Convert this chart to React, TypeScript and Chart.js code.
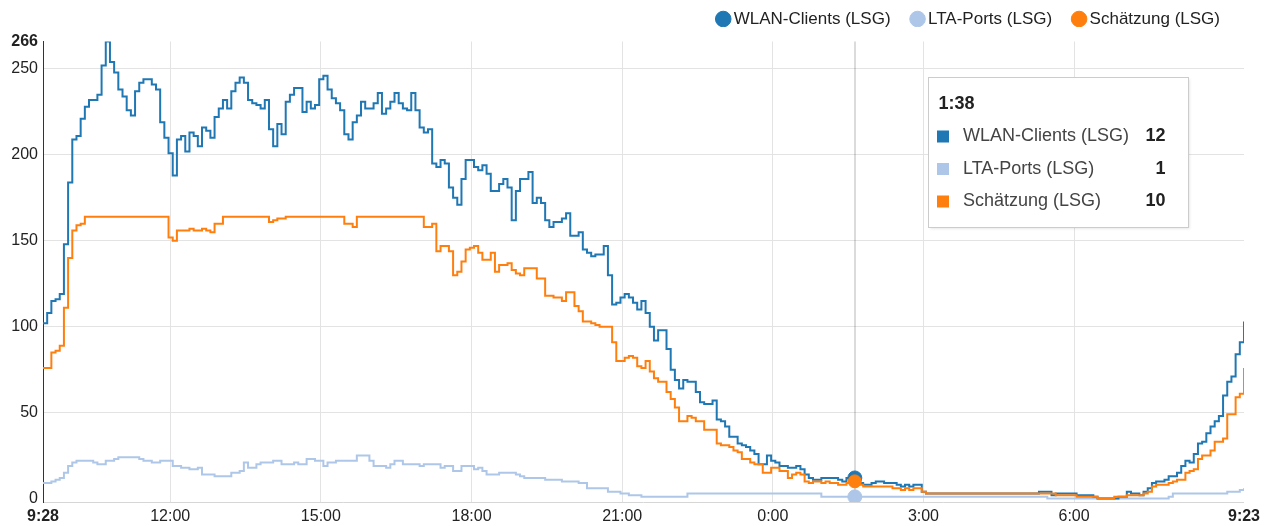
import React, { useEffect, useRef } from 'react';
import { Chart, registerables } from 'chart.js';

Chart.register(...registerables);

const FONT = "'Liberation Sans', Arial, Helvetica, sans-serif";

// time axis: minutes since midnight of the first day, one sample every 5 minutes
const START_MINUTE = 568; // 9:28
const STEP_MINUTES = 5;
const HOVER_INDEX = 194; // 1:38

const SERIES_NAMES = ['WLAN-Clients (LSG)', 'LTA-Ports (LSG)', 'Schätzung (LSG)'];
const SERIES_COLORS = ['#1f77b4', '#aec7e8', '#ff7f0e'];

const WLAN_CLIENTS = [
  102, 108, 115, 116, 119, 148, 184, 209, 211, 221, 228, 232,
  232, 235, 252, 266, 254, 248, 238, 234, 226, 223, 237, 242,
  244, 244, 241, 238, 219, 210, 201, 188, 209, 211, 202, 213,
  211, 205, 216, 214, 210, 222, 227, 232, 227, 237, 242, 245,
  242, 232, 230, 229, 227, 232, 215, 205, 218, 212, 231, 235,
  239, 239, 225, 231, 227, 229, 244, 246, 238, 233, 230, 226,
  212, 209, 219, 223, 231, 227, 227, 230, 236, 224, 227, 231,
  236, 230, 227, 226, 236, 226, 216, 213, 215, 195, 193, 197,
  195, 181, 175, 171, 186, 197, 197, 193, 191, 194, 189, 179,
  179, 183, 186, 181, 162, 179, 186, 186, 190, 172, 175, 172,
  162, 158, 161, 161, 163, 166, 153, 153, 155, 145, 143, 141,
  142, 142, 147, 130, 113, 114, 117, 119, 117, 114, 110, 115,
  108, 100, 92, 98, 98, 87, 75, 69, 64, 69, 68, 68,
  62, 56, 55, 55, 57, 46, 45, 42, 36, 36, 32, 31,
  30, 28, 26, 20, 20, 25, 22, 21, 19, 19, 18, 18,
  19, 17, 14, 12, 11, 11, 12, 12, 12, 12, 11, 10,
  12, 13, 12, 9, 8, 8, 9, 10, 10, 9, 9, 9,
  8, 7, 8, 7, 8, 8, 4, 3, 3, 3, 3, 3,
  3, 3, 3, 3, 3, 3, 3, 3, 3, 3, 3, 3,
  3, 3, 3, 3, 3, 3, 3, 3, 3, 3, 4, 4,
  4, 2, 3, 3, 3, 3, 3, 2, 2, 2, 2, 1,
  0, 0, 0, 0, 0, 1, 1, 4, 3, 3, 2, 4,
  6, 9, 10, 10, 11, 13, 13, 15, 19, 22, 21, 26,
  32, 33, 38, 42, 45, 48, 60, 68, 71, 84, 91, 103,
];

const LTA_PORTS = [
  9, 9, 10, 11, 12, 15, 19, 21, 22, 22, 22, 22,
  21, 20, 20, 22, 22, 23, 24, 24, 24, 24, 24, 23,
  22, 22, 21, 21, 22, 22, 22, 19, 19, 18, 18, 17,
  17, 18, 14, 14, 14, 13, 13, 13, 13, 15, 15, 16,
  21, 18, 18, 20, 21, 21, 21, 22, 22, 20, 20, 20,
  21, 20, 20, 23, 23, 22, 22, 19, 21, 21, 22, 22,
  22, 22, 22, 25, 25, 25, 22, 19, 19, 19, 18, 20,
  22, 22, 20, 20, 20, 20, 19, 20, 20, 20, 20, 18,
  19, 19, 16, 16, 19, 19, 19, 17, 18, 16, 14, 14,
  14, 15, 15, 15, 15, 14, 13, 12, 12, 12, 12, 12,
  11, 11, 11, 11, 10, 10, 10, 10, 9, 9, 6, 6,
  6, 6, 6, 4, 4, 4, 3, 3, 2, 2, 2, 1,
  1, 1, 1, 1, 1, 1, 1, 1, 1, 1, 3, 3,
  3, 3, 3, 3, 3, 3, 3, 3, 3, 3, 3, 3,
  3, 3, 3, 3, 3, 3, 3, 3, 3, 3, 3, 3,
  3, 3, 3, 3, 3, 3, 1, 1, 1, 1, 1, 1,
  1, 1, 1, 1, 1, 1, 1, 1, 1, 1, 1, 1,
  1, 1, 1, 1, 1, 1, 1, 1, 1, 1, 1, 1,
  1, 1, 1, 1, 1, 1, 1, 1, 1, 1, 1, 1,
  1, 1, 1, 1, 1, 1, 1, 1, 1, 1, 1, 1,
  0, 0, 0, 0, 0, 0, 0, 0, 0, 0, 0, 0,
  0, 0, 0, 0, 0, 0, 0, 0, 0, 0, 0, 0,
  0, 0, 0, 0, 0, 1, 3, 3, 3, 3, 3, 3,
  3, 3, 3, 3, 3, 3, 3, 4, 4, 4, 5, 6,
];

const SCHAETZUNG = [
  76, 76, 85, 86, 89, 111, 140, 156, 159, 160, 164, 164,
  164, 164, 164, 164, 164, 164, 164, 164, 164, 164, 164, 164,
  164, 164, 164, 164, 164, 164, 152, 150, 156, 156, 156, 157,
  156, 156, 157, 156, 155, 160, 160, 164, 164, 164, 164, 164,
  164, 164, 164, 164, 164, 164, 161, 162, 163, 163, 164, 164,
  164, 164, 164, 164, 164, 164, 164, 164, 164, 164, 164, 164,
  160, 160, 158, 164, 164, 164, 164, 164, 164, 164, 164, 164,
  164, 164, 164, 164, 164, 164, 164, 158, 158, 160, 144, 147,
  147, 144, 130, 132, 138, 145, 146, 147, 143, 139, 139, 143,
  132, 136, 136, 137, 133, 131, 130, 134, 134, 134, 128, 128,
  118, 118, 117, 117, 115, 120, 120, 112, 109, 103, 103, 102,
  101, 100, 100, 100, 91, 80, 80, 82, 83, 82, 77, 76,
  80, 74, 70, 68, 68, 62, 58, 53, 45, 45, 48, 47,
  45, 45, 40, 40, 40, 32, 31, 31, 30, 28, 27, 23,
  23, 21, 20, 20, 15, 15, 18, 18, 16, 16, 12, 14,
  15, 14, 10, 9, 10, 10, 9, 10, 9, 9, 8, 8,
  9, 9, 10, 8, 7, 7, 7, 7, 7, 7, 7, 6,
  6, 5, 6, 5, 6, 6, 4, 3, 3, 3, 3, 3,
  3, 3, 3, 3, 3, 3, 3, 3, 3, 3, 3, 3,
  3, 3, 3, 3, 3, 3, 3, 3, 3, 3, 3, 3,
  3, 3, 2, 2, 2, 2, 2, 1, 1, 1, 1, 1,
  0, 0, 0, 0, 1, 1, 1, 2, 2, 2, 2, 3,
  4, 7, 8, 8, 8, 9, 10, 11, 11, 15, 16, 17,
  23, 25, 25, 28, 33, 33, 35, 49, 49, 59, 61, 76,
];

const X_TICKS = [568, 720, 900, 1080, 1260, 1440, 1620, 1800, 2003];
const Y_TICKS = [0, 50, 100, 150, 200, 250, 266];
const X_MIN = 568;
const X_MAX = 2003;
const Y_MIN = -2;
const Y_MAX = 266;

const SERIES_VALUES = [WLAN_CLIENTS, LTA_PORTS, SCHAETZUNG];

function fmtTime(m: number): string {
  const t = ((Math.round(m) % 1440) + 1440) % 1440;
  return `${Math.floor(t / 60)}:${String(t % 60).padStart(2, '0')}`;
}

function toPoints(values: number[]) {
  return values.map((v, i) => ({ x: START_MINUTE + i * STEP_MINUTES, y: v }));
}

const legendLayoutPlugin = {
  id: 'legendLayout',
  beforeInit(chart: any) {
    const legend = chart.legend;
    if (!legend) return;
    const origFit = legend.fit;
    legend.fit = function fit() {
      origFit.call(this);
      this.height = 41.5;
    };
  },
  afterLayout(chart: any) {
    const legend = chart.legend;
    if (!legend) return;
    legend.top -= 14.5;
    legend.bottom -= 14.5;
  },
};

const crosshairPlugin = {
  id: 'crosshair',
  beforeDatasetsDraw(chart: any) {
    const { ctx, chartArea, scales } = chart;
    const hx = Math.round(scales.x.getPixelForValue(START_MINUTE + HOVER_INDEX * STEP_MINUTES));
    ctx.save();
    ctx.strokeStyle = 'rgba(0,0,0,0.14)';
    ctx.lineWidth = 2;
    ctx.beginPath();
    ctx.moveTo(hx, chartArea.top);
    ctx.lineTo(hx, chartArea.bottom);
    ctx.stroke();
    ctx.restore();
  },
};

const tooltipPlugin = {
  id: 'fixedTooltip',
  afterDraw(chart: any) {
    const { ctx, chartArea, scales } = chart;
    const minute = START_MINUTE + HOVER_INDEX * STEP_MINUTES;
    const hx = scales.x.getPixelForValue(minute);
    const left = Math.round(hx + 73) + 0.5;
    const top = Math.round(chartArea.top + 35) + 0.5;
    const w = 260;
    const h = 150;
    ctx.save();
    ctx.shadowColor = 'rgba(0,0,0,0.12)';
    ctx.shadowBlur = 3;
    ctx.shadowOffsetX = 1;
    ctx.shadowOffsetY = 1;
    ctx.fillStyle = '#ffffff';
    ctx.fillRect(left, top, w, h);
    ctx.shadowColor = 'rgba(0,0,0,0)';
    ctx.strokeStyle = '#cccccc';
    ctx.lineWidth = 1;
    ctx.strokeRect(left, top, w, h);

    ctx.textBaseline = 'middle';
    ctx.textAlign = 'left';
    ctx.font = `bold 18px ${FONT}`;
    ctx.fillStyle = '#222222';
    ctx.fillText(fmtTime(minute), left + 10, top + 27);

    SERIES_NAMES.forEach((name, k) => {
      const cy = top + 59 + k * 32.5;
      ctx.fillStyle = SERIES_COLORS[k];
      ctx.fillRect(left + 8.5, cy - 6, 12, 12);
      ctx.textAlign = 'left';
      ctx.font = `18px ${FONT}`;
      ctx.fillStyle = '#444444';
      ctx.fillText(name, left + 34.5, cy);
      ctx.textAlign = 'right';
      ctx.font = `bold 18px ${FONT}`;
      ctx.fillStyle = '#222222';
      ctx.fillText(String(SERIES_VALUES[k][HOVER_INDEX]), left + 237, cy);
    });
    ctx.restore();
  },
};

export default function App() {
  const canvasRef = useRef<HTMLCanvasElement | null>(null);

  useEffect(() => {
    const canvas = canvasRef.current;
    if (!canvas) return;
    Chart.defaults.font.family = FONT;

    const makeDataset = (k: number, order: number, hoverRadius: number) => ({
      label: SERIES_NAMES[k],
      data: toPoints(SERIES_VALUES[k]),
      borderColor: SERIES_COLORS[k],
      backgroundColor: SERIES_COLORS[k],
      pointBackgroundColor: SERIES_COLORS[k],
      pointBorderColor: SERIES_COLORS[k],
      pointBorderWidth: 1,
      borderWidth: 2,
      stepped: 'before' as const,
      tension: 0,
      fill: false,
      order,
      pointRadius: (c: any) => (c.dataIndex === HOVER_INDEX ? hoverRadius : 0),
      pointHoverRadius: (c: any) => (c.dataIndex === HOVER_INDEX ? hoverRadius : 0),
    });

    const chart = new Chart(canvas, {
      type: 'line',
      data: {
        datasets: [makeDataset(0, 1, 7), makeDataset(1, 2, 7), makeDataset(2, 0, 6.5)],
      },
      options: {
        animation: false,
        responsive: false,
        events: [],
        layout: { padding: { left: 0, right: 20, top: 0, bottom: 0 } },
        plugins: {
          legend: {
            position: 'top',
            align: 'end',
            labels: {
              usePointStyle: true,
              pointStyle: 'circle',
              boxWidth: 4,
              boxHeight: 11,
              padding: 25,
              color: '#222222',
              font: { size: 17 },
              sort: (a: any, b: any) => a.datasetIndex - b.datasetIndex,
            },
          },
          tooltip: { enabled: false },
        },
        scales: {
          x: {
            type: 'linear',
            min: X_MIN,
            max: X_MAX,
            afterBuildTicks: (s: any) => {
              s.ticks = X_TICKS.map((v) => ({ value: v }));
            },
            afterFit: (s: any) => {
              s.height = 24;
            },
            ticks: {
              autoSkip: false,
              maxRotation: 0,
              padding: 5,
              color: '#222222',
              callback: (v: any) => fmtTime(Number(v)),
              font: (c: any) => ({
                size: 16,
                weight: c.tick && (c.tick.value === X_MIN || c.tick.value === X_MAX) ? 'bold' : 'normal',
              }),
            },
            grid: {
              drawTicks: false,
              lineWidth: 1,
              color: (c: any) =>
                c.tick && (c.tick.value === X_MIN || c.tick.value === X_MAX) ? 'rgba(0,0,0,0)' : '#e3e3e3',
            },
            border: { display: true, color: '#d6d6d6', width: 1 },
          },
          y: {
            type: 'linear',
            min: Y_MIN,
            max: Y_MAX,
            afterBuildTicks: (s: any) => {
              s.ticks = Y_TICKS.map((v) => ({ value: v }));
            },
            afterFit: (s: any) => {
              s.width = 43;
            },
            ticks: {
              padding: 5,
              color: '#222222',
              font: (c: any) => ({
                size: 16,
                weight: c.tick && c.tick.value === Y_MAX ? 'bold' : 'normal',
              }),
            },
            grid: {
              drawTicks: false,
              lineWidth: 1,
              color: (c: any) =>
                c.tick && (c.tick.value === Y_MAX || c.tick.value === 0) ? 'rgba(0,0,0,0)' : '#e3e3e3',
            },
            border: { display: true, color: '#333333', width: 1 },
          },
        },
      },
      plugins: [legendLayoutPlugin, crosshairPlugin, tooltipPlugin],
    } as any);

    return () => {
      chart.destroy();
    };
  }, []);

  return (
    <div style={{ position: 'absolute', left: 0, top: 0, width: 1265, height: 526, background: '#fff' }}>
      <canvas ref={canvasRef} width={1265} height={526} style={{ display: 'block', width: 1265, height: 526 }} />
    </div>
  );
}
